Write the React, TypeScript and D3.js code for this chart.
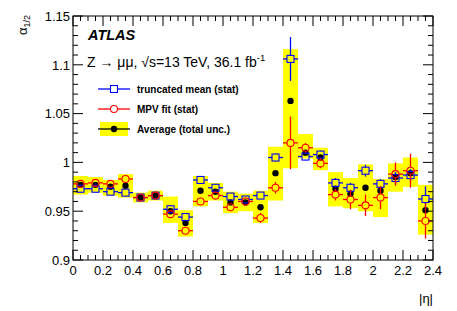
import React from "react";
import * as d3 from "d3";

const etaCenters = [0.05, 0.15, 0.25, 0.35, 0.45, 0.55, 0.65, 0.75, 0.85, 0.95, 1.05, 1.15, 1.25, 1.35, 1.45, 1.55, 1.65, 1.75, 1.85, 1.95, 2.05, 2.15, 2.25, 2.35];
const binHalfWidth = 0.05;
const truncMean = [0.973, 0.973, 0.970, 0.969, 0.964, 0.966, 0.952, 0.944, 0.982, 0.974, 0.965, 0.962, 0.966, 1.005, 1.106, 1.006, 1.008, 0.979, 0.974, 0.9915, 0.978, 0.984, 0.987, 0.9625];
const truncErr = [0.002, 0.002, 0.002, 0.002, 0.002, 0.002, 0.003, 0.003, 0.003, 0.003, 0.003, 0.003, 0.003, 0.004, 0.0225, 0.004, 0.004, 0.005, 0.005, 0.006, 0.005, 0.006, 0.006, 0.013];
const mpvFit = [0.978, 0.979, 0.978, 0.983, 0.964, 0.966, 0.947, 0.930, 0.960, 0.966, 0.954, 0.960, 0.943, 0.974, 1.020, 1.015, 0.999, 0.967, 0.962, 0.956, 0.964, 0.988, 0.9915, 0.940];
const mpvErr = [0.003, 0.003, 0.003, 0.003, 0.003, 0.003, 0.004, 0.004, 0.004, 0.004, 0.004, 0.004, 0.005, 0.006, 0.027, 0.005, 0.005, 0.006, 0.010, 0.011, 0.012, 0.012, 0.0175, 0.018];
const average = [0.977, 0.977, 0.975, 0.976, 0.964, 0.966, 0.950, 0.938, 0.971, 0.970, 0.959, 0.959, 0.954, 0.989, 1.063, 1.010, 1.005, 0.973, 0.968, 0.974, 0.971, 0.985, 0.989, 0.951];
const avgErrUp = [0.009, 0.008, 0.007, 0.012, 0.005, 0.005, 0.015, 0.013, 0.015, 0.009, 0.011, 0.009, 0.017, 0.027, 0.053, 0.019, 0.010, 0.017, 0.016, 0.024, 0.012, 0.014, 0.016, 0.026];
const avgErrDown = [0.010, 0.008, 0.009, 0.012, 0.005, 0.005, 0.012, 0.014, 0.016, 0.009, 0.011, 0.009, 0.016, 0.028, 0.069, 0.006, 0.013, 0.018, 0.015, 0.024, 0.027, 0.015, 0.014, 0.025];

const xTickLabels = ["0", "0.2", "0.4", "0.6", "0.8", "1", "1.2", "1.4", "1.6", "1.8", "2", "2.2", "2.4"];
const yTickLabels = ["0.9", "0.95", "1", "1.05", "1.1", "1.15"];
const legendLabels = ["truncated mean (stat)", "MPV fit (stat)", "Average (total unc.)"];

const W = 457, H = 311;
const L = 73, R = 433, T = 16, B = 260;
const FONT = "'Liberation Sans', Arial, Helvetica, sans-serif";

export default function App() {
  const x = d3.scaleLinear().domain([0, 2.4]).range([L, R]);
  const y = d3.scaleLinear().domain([0.9, 1.15]).range([B, T]);
  const ms = 3.5; // marker half size

  const xMajor = d3.range(0, 13).map((i) => i * 0.2);
  const xMinor = d3.range(0, 49).map((i) => i * 0.05);
  const yMajor = d3.range(0, 6).map((i) => 0.9 + i * 0.05);
  const yMinor = d3.range(0, 26).map((i) => 0.9 + i * 0.01);

  const errMarks = (
    vals: number[],
    errs: number[],
    color: string,
    gap: number,
    key: string
  ) =>
    etaCenters.map((c, i) => {
      const cx = x(c), cy = y(vals[i]);
      const x0 = x(c - binHalfWidth), x1 = x(c + binHalfWidth);
      const yt = y(vals[i] + errs[i]), yb = y(vals[i] - errs[i]);
      return (
        <g key={key + i} stroke={color} strokeWidth={1.3}>
          <line x1={x0} x2={cx - gap} y1={cy} y2={cy} />
          <line x1={cx + gap} x2={x1} y1={cy} y2={cy} />
          {cy - yt > gap && <line x1={cx} x2={cx} y1={yt} y2={cy - gap} />}
          {yb - cy > gap && <line x1={cx} x2={cx} y1={cy + gap} y2={yb} />}
        </g>
      );
    });

  const legendY = [89, 109, 129];
  const legX0 = 98, legX1 = 130, legXm = 114;

  return (
    <svg width={W} height={H} style={{ position: "absolute", left: 0, top: 0, background: "#fff" }} fontFamily={FONT}>
      {/* yellow total-uncertainty boxes */}
      {etaCenters.map((c, i) => (
        <rect
          key={"box" + i}
          x={x(c - binHalfWidth)}
          width={x(c + binHalfWidth) - x(c - binHalfWidth)}
          y={y(average[i] + avgErrUp[i])}
          height={y(average[i] - avgErrDown[i]) - y(average[i] + avgErrUp[i])}
          fill="#ffff00"
        />
      ))}
      {/* average points */}
      {etaCenters.map((c, i) => (
        <circle key={"avg" + i} cx={x(c)} cy={y(average[i])} r={3.2} fill="#000" />
      ))}
      {/* truncated mean */}
      {errMarks(truncMean, truncErr, "#0000ff", ms, "tm")}
      {etaCenters.map((c, i) => (
        <rect key={"sq" + i} x={x(c) - ms} y={y(truncMean[i]) - ms} width={2 * ms} height={2 * ms} fill="none" stroke="#0000ff" strokeWidth={1.1} />
      ))}
      {/* MPV fit */}
      {errMarks(mpvFit, mpvErr, "#ff0000", ms, "mpv")}
      {etaCenters.map((c, i) => (
        <circle key={"ci" + i} cx={x(c)} cy={y(mpvFit[i])} r={ms} fill="none" stroke="#ff0000" strokeWidth={1.1} />
      ))}

      {/* frame */}
      <rect x={L} y={T} width={R - L} height={B - T} fill="none" stroke="#000" strokeWidth={1} />
      {/* x ticks */}
      {xMinor.map((v, i) => {
        const major = i % 4 === 0;
        const len = major ? 10 : 5;
        return (
          <g key={"xt" + i} stroke="#000" strokeWidth={1}>
            <line x1={x(v)} x2={x(v)} y1={B} y2={B - len} />
            <line x1={x(v)} x2={x(v)} y1={T} y2={T + len} />
          </g>
        );
      })}
      {xMajor.map((v, i) => (
        <text key={"xl" + i} x={x(v)} y={275} fontSize={13} textAnchor="middle" fill="#000">
          {xTickLabels[i]}
        </text>
      ))}
      {/* y ticks */}
      {yMinor.map((v, i) => {
        const major = i % 5 === 0;
        const len = major ? 10 : 5;
        return (
          <g key={"yt" + i} stroke="#000" strokeWidth={1}>
            <line x1={L} x2={L + len} y1={y(v)} y2={y(v)} />
            <line x1={R} x2={R - len} y1={y(v)} y2={y(v)} />
          </g>
        );
      })}
      {yMajor.map((v, i) => (
        <text key={"yl" + i} x={70} y={y(v) + 4.7} fontSize={13} textAnchor="end" fill="#000">
          {yTickLabels[i]}
        </text>
      ))}

      {/* axis titles */}
      <text x={433} y={303} fontSize={13} textAnchor="end">|η|</text>
      <text transform="translate(27,15) rotate(-90)" fontSize={13} textAnchor="end">
        α<tspan fontSize={9} dy={3}>1/2</tspan>
      </text>

      {/* labels */}
      <text x={88} y={40} fontSize={14.5} fontWeight="bold" fontStyle="italic">ATLAS</text>
      <text x={87} y={67} fontSize={14}>
        Z → μμ, √s=13 TeV, 36.1 fb<tspan fontSize={9.5} dy={-6}>-1</tspan>
      </text>

      {/* legend */}
      <g stroke="#0000ff" strokeWidth={1.3}>
        <line x1={legX0} x2={legXm - ms} y1={legendY[0]} y2={legendY[0]} />
        <line x1={legXm + ms} x2={legX1} y1={legendY[0]} y2={legendY[0]} />
        <rect x={legXm - ms} y={legendY[0] - ms} width={2 * ms} height={2 * ms} fill="none" strokeWidth={1.1} />
      </g>
      <g stroke="#ff0000" strokeWidth={1.3}>
        <line x1={legX0} x2={legXm - ms} y1={legendY[1]} y2={legendY[1]} />
        <line x1={legXm + ms} x2={legX1} y1={legendY[1]} y2={legendY[1]} />
        <circle cx={legXm} cy={legendY[1]} r={ms} fill="none" strokeWidth={1.1} />
      </g>
      <rect x={legX0 + 2} y={legendY[2] - 7} width={legX1 - legX0 - 4} height={14} fill="#ffff00" />
      <line x1={legX0} x2={legX1} y1={legendY[2]} y2={legendY[2]} stroke="#000" strokeWidth={1.3} />
      <circle cx={legXm} cy={legendY[2]} r={3.2} fill="#000" />
      {legendLabels.map((t, i) => (
        <text key={"lg" + i} x={137} y={legendY[i] + 3.5} fontSize={10} fontWeight="bold">{t}</text>
      ))}
    </svg>
  );
}
